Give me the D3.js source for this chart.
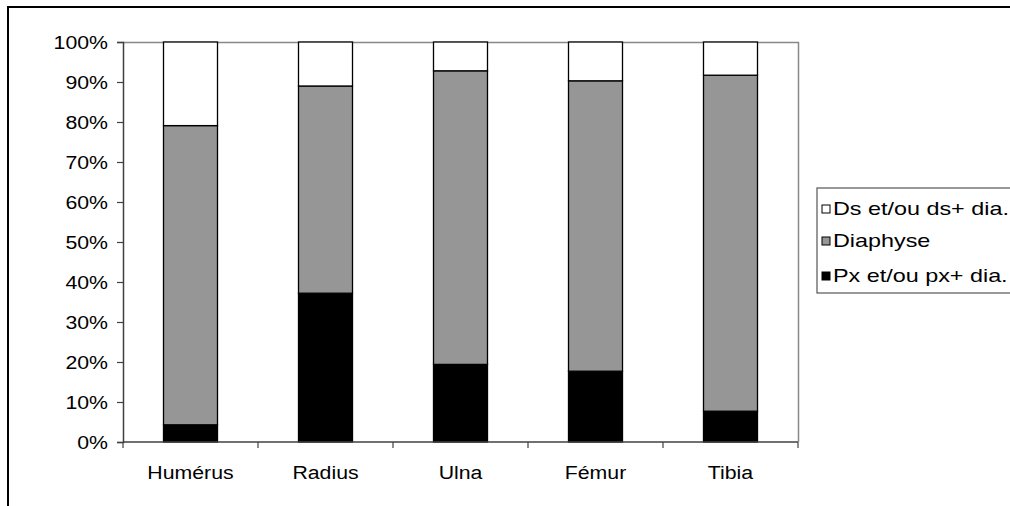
<!DOCTYPE html>
<html>
<head>
<meta charset="utf-8">
<script src="https://cdn.jsdelivr.net/npm/d3@7"></script>
<style>
  html, body { margin: 0; padding: 0; background: #fff; }
  svg { display: block; font-family: "Liberation Sans", Arial, sans-serif; }
</style>
</head>
<body>
<svg id="chart" width="1010" height="506"></svg>
<script>
// Bone elements and the share (%) of each fragment zone
const categories = ["Humérus", "Radius", "Ulna", "Fémur", "Tibia"];
const pxValues   = [4.3, 37.2, 19.4, 17.7, 7.7];    // Px et/ou px+ dia.
const diaValues  = [74.8, 51.8, 73.4, 72.6, 84.0];  // Diaphyse
const dsValues   = [20.9, 11.0, 7.2, 9.7, 8.3];     // Ds et/ou ds+ dia.
const seriesNames = ["Px et/ou px+ dia.", "Diaphyse", "Ds et/ou ds+ dia."];
const seriesColors = ["#000000", "#969696", "#ffffff"];
const yTicks = [0, 10, 20, 30, 40, 50, 60, 70, 80, 90, 100];

// Wide, slightly stretched lettering
const FONT = 19, STRETCH = 1.12, LEGEND_STRETCH = 1.23;

const svg = d3.select("#chart");

// Outer chart frame (runs past the right and bottom edges)
svg.append("rect")
  .attr("x", 8).attr("y", 7)
  .attr("width", 1100).attr("height", 600)
  .attr("fill", "#fff").attr("stroke", "#000").attr("stroke-width", 2);

const plot = { left: 123, right: 798, top: 42, bottom: 442 };

const x = d3.scaleBand()
  .domain(categories)
  .range([plot.left, plot.right])
  .paddingInner(0.6).paddingOuter(0.3);

const y = d3.scaleLinear().domain([0, 100]).range([plot.bottom, plot.top]);

// Stacked data, bottom to top
const rows = categories.map((c, i) => ({
  cat: c, px: pxValues[i], dia: diaValues[i], ds: dsValues[i]
}));
const stacked = d3.stack().keys(["px", "dia", "ds"])(rows);

// Plot-area border (top and right, grey)
svg.append("path")
  .attr("d", `M${plot.left},${plot.top + 0.5}H${plot.right + 0.5}V${plot.bottom}`)
  .attr("fill", "none").attr("stroke", "#888").attr("stroke-width", 1.5);

// Bars
const layers = svg.append("g").selectAll("g")
  .data(stacked).join("g")
  .attr("fill", (d, i) => seriesColors[i]);

layers.selectAll("rect")
  .data(d => d)
  .join("rect")
  .attr("x", d => x(d.data.cat))
  .attr("width", x.bandwidth())
  .attr("y", d => y(d[1]))
  .attr("height", d => y(d[0]) - y(d[1]))
  .attr("stroke", "#000")
  .attr("stroke-width", 1.3);

// Y axis
const yAxis = d3.axisLeft(y)
  .tickValues(yTicks)
  .tickFormat(d => d + "%")
  .tickSize(6).tickPadding(9);

const gy = svg.append("g")
  .attr("transform", `translate(${plot.left},0)`)
  .call(yAxis);
gy.select(".domain").attr("stroke", "#404040").attr("stroke-width", 1.5);
gy.selectAll(".tick line").attr("stroke", "#404040").attr("stroke-width", 1.2);
gy.selectAll(".tick text")
  .attr("font-size", FONT).attr("fill", "#000")
  .attr("font-family", "Liberation Sans, Arial, sans-serif")
  .attr("x", -15 / STRETCH)
  .attr("transform", `scale(${STRETCH},1)`);

// X axis: ticks sit between categories
const xAxisLine = svg.append("g");
xAxisLine.append("line")
  .attr("x1", plot.left).attr("x2", plot.right)
  .attr("y1", plot.bottom).attr("y2", plot.bottom)
  .attr("stroke", "#404040").attr("stroke-width", 1.5);
const boundaries = d3.range(categories.length + 1)
  .map(i => plot.left + i * (plot.right - plot.left) / categories.length);
xAxisLine.selectAll("line.tick")
  .data(boundaries).join("line")
  .attr("class", "tick")
  .attr("x1", d => d).attr("x2", d => d)
  .attr("y1", plot.bottom).attr("y2", plot.bottom + 6)
  .attr("stroke", "#404040").attr("stroke-width", 1.2);
xAxisLine.selectAll("g.label")
  .data(categories).join("g")
  .attr("class", "label")
  .attr("transform", d => `translate(${x(d) + x.bandwidth() / 2},479) scale(${STRETCH},1)`)
  .append("text")
  .attr("text-anchor", "middle")
  .attr("font-size", FONT)
  .text(d => d);

// Legend (top entry is the top of the stack)
const legend = svg.append("g");
legend.append("rect")
  .attr("x", 817).attr("y", 188)
  .attr("width", 260).attr("height", 105)
  .attr("fill", "#fff").attr("stroke", "#555").attr("stroke-width", 1.2);

const legendItems = [2, 1, 0];
const legendY = [209, 241, 276];
legend.selectAll("g.item")
  .data(legendItems).join("g")
  .attr("class", "item")
  .each(function (s, i) {
    const g = d3.select(this);
    g.append("rect")
      .attr("x", 822).attr("y", legendY[i] - 4)
      .attr("width", 8).attr("height", 8)
      .attr("fill", seriesColors[s]).attr("stroke", "#000").attr("stroke-width", 1);
    g.append("g")
      .attr("transform", `translate(833,${legendY[i] + 6}) scale(${LEGEND_STRETCH},1)`)
      .append("text")
      .attr("font-size", FONT)
      .text(seriesNames[s]);
  });
</script>
</body>
</html>
